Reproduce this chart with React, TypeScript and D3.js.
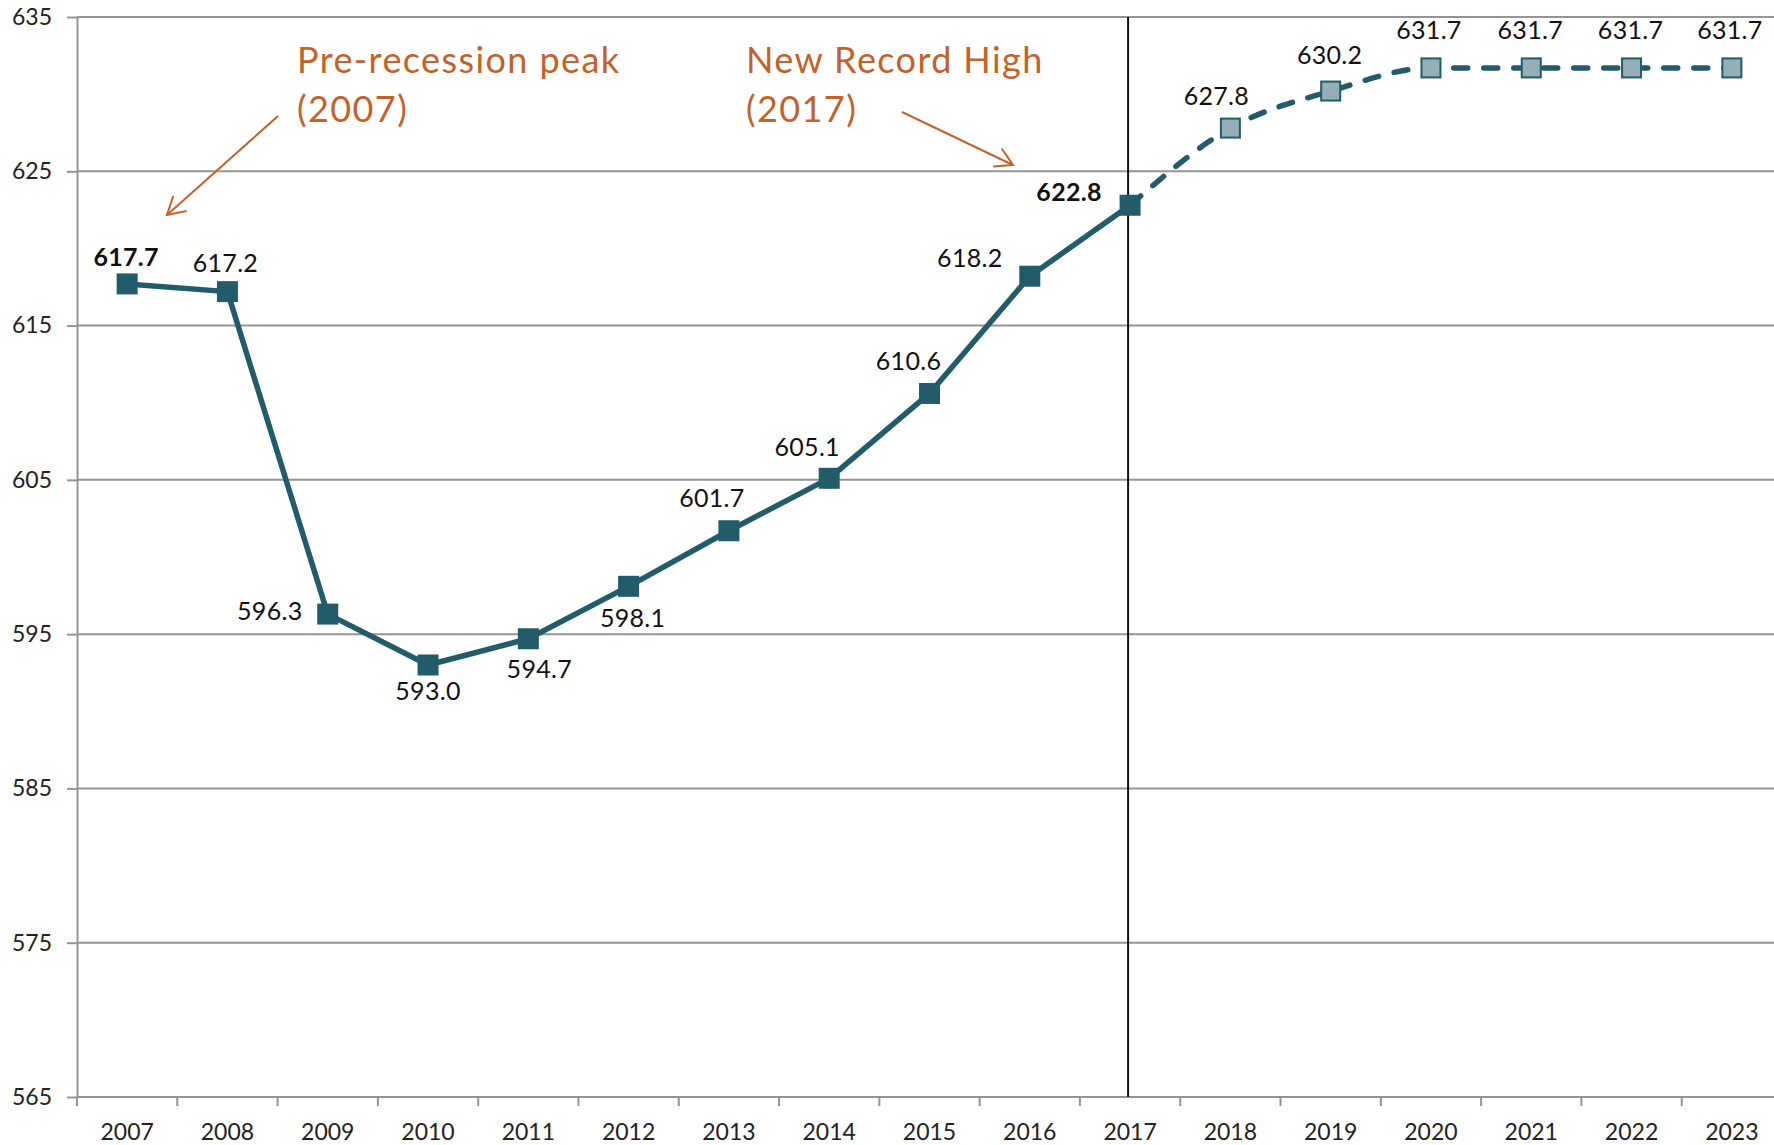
import { useEffect, useRef } from "react";
import * as d3 from "d3";

// years on the x axis
const years = ["2007", "2008", "2009", "2010", "2011", "2012", "2013", "2014", "2015", "2016", "2017", "2018", "2019", "2020", "2021", "2022", "2023"];
// actual values 2007-2017
const actualValues = [617.7, 617.2, 596.3, 593.0, 594.7, 598.1, 601.7, 605.1, 610.6, 618.2, 622.8];
// forecast values 2018-2023
const forecastValues = [627.8, 630.2, 631.7, 631.7, 631.7, 631.7];
const yTicks = [565, 575, 585, 595, 605, 615, 625, 635];
const boldYears = ["2007", "2017"];
const dividerYear = "2017";
const noteA = ["Pre-recession peak", "(2007)"];
const noteB = ["New Record High", "(2017)"];

// layout
const W = 1774;
const H = 1145;
const left = 77;
const right = 1782;
const top = 17;
const bottom = 1097;
const teal = "#225b69";
const orange = "#c2622a";
const grid = "#949494";
const font = "Lato, 'Open Sans', sans-serif";

// label centre offsets from each marker [dx, dy]
const labelOffsets = [
  [-1, -27], [-2, -28], [-58, -3], [0, 26], [11, 30], [4, 32], [-17, -33], [-22, -31],
  [-21, -32], [-60, -18], [-61, -13], [-14, -32], [-1, -36], [-2, -38], [-1, -38], [-1, -38], [-2, -38],
];

export default function App() {
  const ref = useRef<SVGSVGElement>(null);

  useEffect(() => {
    const svg = d3.select(ref.current);
    svg.selectAll("*").remove();

    const x = d3.scaleBand<string>(years, [left, right]);
    const y = d3.scaleLinear([565, 635], [bottom, top]);
    const cx = (yr: string) => (x(yr) as number) + x.bandwidth() / 2;

    const points = [
      ...actualValues.map((v, i) => ({ year: years[i], value: v, forecast: false })),
      ...forecastValues.map((v, i) => ({ year: years[actualValues.length + i], value: v, forecast: true })),
    ];

    // gridlines
    svg.append("g")
      .selectAll("line")
      .data(yTicks)
      .join("line")
      .attr("x1", left)
      .attr("x2", W)
      .attr("y1", d => y(d))
      .attr("y2", d => y(d))
      .attr("stroke", grid)
      .attr("stroke-width", 2);

    // y axis
    const yAxis = svg.append("g")
      .attr("transform", `translate(${left},0)`)
      .call(d3.axisLeft(y).tickValues(yTicks).tickSize(10).tickSizeOuter(0).tickPadding(15).tickFormat(d3.format("d")));
    yAxis.select(".domain").attr("stroke", grid).attr("stroke-width", 2);
    yAxis.selectAll(".tick line").attr("stroke", grid).attr("stroke-width", 2);
    yAxis.selectAll(".tick text")
      .attr("font-family", font)
      .attr("font-size", 23)
      .attr("fill", "#222");

    // x axis ticks at category boundaries
    const bounds = d3.range(years.length + 1).map(k => left + k * x.step());
    svg.append("g")
      .selectAll("line")
      .data(bounds)
      .join("line")
      .attr("x1", d => d)
      .attr("x2", d => d)
      .attr("y1", bottom)
      .attr("y2", bottom + 9)
      .attr("stroke", grid)
      .attr("stroke-width", 2);
    svg.append("g")
      .selectAll("text")
      .data(years)
      .join("text")
      .attr("x", d => cx(d))
      .attr("y", 1140)
      .attr("text-anchor", "middle")
      .attr("font-family", font)
      .attr("font-size", 23)
      .attr("fill", "#222")
      .text(d => d);

    // divider at 2017
    svg.append("line")
      .attr("x1", cx(dividerYear) - 2)
      .attr("x2", cx(dividerYear) - 2)
      .attr("y1", top)
      .attr("y2", bottom)
      .attr("stroke", "#111")
      .attr("stroke-width", 2);

    // lines
    const solid = d3.line<{ year: string; value: number }>()
      .x(d => cx(d.year))
      .y(d => y(d.value));
    svg.append("path")
      .datum(points.filter(p => !p.forecast))
      .attr("d", solid)
      .attr("fill", "none")
      .attr("stroke", teal)
      .attr("stroke-width", 5.5)
      .attr("stroke-linejoin", "round");

    const dashed = d3.line<{ year: string; value: number }>()
      .x(d => cx(d.year))
      .y(d => y(d.value))
      .curve(d3.curveMonotoneX);
    svg.append("path")
      .datum(points.slice(actualValues.length - 1))
      .attr("d", dashed)
      .attr("fill", "none")
      .attr("stroke", teal)
      .attr("stroke-width", 5.5)
      .attr("stroke-dasharray", "14 16")
      .attr("stroke-linecap", "round");

    // markers
    svg.append("g")
      .selectAll("rect")
      .data(points)
      .join("rect")
      .attr("x", d => cx(d.year) - (d.forecast ? 9.5 : 10.5))
      .attr("y", d => y(d.value) - (d.forecast ? 9.5 : 10.5))
      .attr("width", d => (d.forecast ? 19 : 21))
      .attr("height", d => (d.forecast ? 19 : 21))
      .attr("fill", d => (d.forecast ? "#94afb7" : teal))
      .attr("stroke", d => (d.forecast ? teal : "none"))
      .attr("stroke-width", 2);

    // data labels
    svg.append("g")
      .selectAll("text")
      .data(points)
      .join("text")
      .attr("x", (d, i) => cx(d.year) + labelOffsets[i][0])
      .attr("y", (d, i) => y(d.value) + labelOffsets[i][1])
      .attr("dy", "0.35em")
      .attr("text-anchor", "middle")
      .attr("font-family", font)
      .attr("font-size", 25)
      .attr("letter-spacing", 0.3)
      .attr("font-weight", d => (boldYears.includes(d.year) ? 700 : 400))
      .attr("fill", "#111")
      .text(d => d.value.toFixed(1));

    // annotations
    const note = (lines: string[], tx: number) => {
      svg.append("g")
        .selectAll("text")
        .data(lines)
        .join("text")
        .attr("x", tx)
        .attr("y", (d, i) => 73 + i * 49)
        .attr("font-family", font)
        .attr("font-size", 36)
        .attr("letter-spacing", 1.4)
        .attr("fill", orange)
        .text(d => d);
    };
    note(noteA, 297);
    note(noteB, 746);

    const arrow = (x1: number, y1: number, x2: number, y2: number) => {
      const a = Math.atan2(y2 - y1, x2 - x1);
      const len = 20;
      const h1 = [x2 - len * Math.cos(a - Math.PI / 6), y2 - len * Math.sin(a - Math.PI / 6)];
      const h2 = [x2 - len * Math.cos(a + Math.PI / 6), y2 - len * Math.sin(a + Math.PI / 6)];
      const g = svg.append("g").attr("stroke", orange).attr("stroke-width", 2).attr("fill", "none");
      g.append("line").attr("x1", x1).attr("y1", y1).attr("x2", x2).attr("y2", y2);
      g.append("path").attr("d", `M${h1[0]},${h1[1]}L${x2},${y2}L${h2[0]},${h2[1]}`);
    };
    arrow(278, 116, 167, 215);
    arrow(902, 112, 1013, 165);
  }, []);

  return (
    <svg
      ref={ref}
      width={W}
      height={H}
      style={{ position: "absolute", left: 0, top: 0, background: "#fff" }}
    />
  );
}
